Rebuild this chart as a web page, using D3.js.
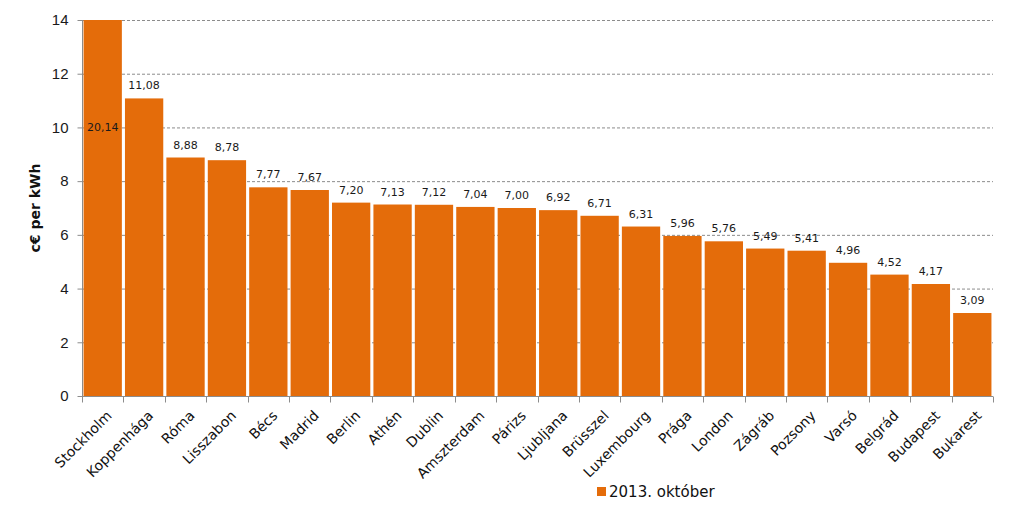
<!DOCTYPE html>
<html>
<head>
<meta charset="utf-8">
<script src="https://cdn.jsdelivr.net/npm/d3@7"></script>
<style>
  body { margin: 0; background: #fff; }
  svg { display: block; font-family: "DejaVu Sans", Verdana, sans-serif; }
</style>
</head>
<body>
<svg id="chart" width="1009" height="510"></svg>
<script>
// data
const cities = ["Stockholm", "Koppenhága", "Róma", "Lisszabon", "Bécs", "Madrid", "Berlin", "Athén", "Dublin",
  "Amszterdam", "Párizs", "Ljubljana", "Brüsszel", "Luxembourg", "Prága", "London", "Zágráb", "Pozsony",
  "Varsó", "Belgrád", "Budapest", "Bukarest"]
const prices = [20.14, 11.08, 8.88, 8.78, 7.77, 7.67, 7.20, 7.13, 7.12, 7.04, 7.00, 6.92, 6.71, 6.31, 5.96,
  5.76, 5.49, 5.41, 4.96, 4.52, 4.17, 3.09]
const yTicks = [0, 2, 4, 6, 8, 10, 12, 14]
const seriesName = "2013. október"
const yTitle = "c€ per kWh"

const orange = "#e46c0a"
const margins = { left: 82, top: 20, right: 16, bottom: 114 }
const width = 1009, height = 510

const svg = d3.select("#chart")

const x = d3.scaleBand()
    .domain(cities)
    .range([margins.left, width - margins.right])
    .paddingInner(0.075)
    .paddingOuter(0.0375)

const y = d3.scaleLinear()
    .domain([0, 14])
    .range([height - margins.bottom, margins.top])

const fmt = v => v.toFixed(2).replace(".", ",")

// gridlines
svg.append("g")
    .selectAll("line")
    .data(yTicks.filter(d => d > 0))
    .join("line")
    .attr("x1", margins.left)
    .attr("x2", width - margins.right)
    .attr("y1", d => y(d) + 0.5)
    .attr("y2", d => y(d) + 0.5)
    .attr("stroke", "#8c8c8c")
    .attr("stroke-width", 1)
    .attr("stroke-dasharray", "3,2")

// bars (clipped at axis max)
svg.append("g")
    .selectAll("rect")
    .data(prices)
    .join("rect")
    .attr("x", (d, i) => x(cities[i]))
    .attr("width", x.bandwidth())
    .attr("y", d => y(Math.min(d, 14)))
    .attr("height", d => y(0) - y(Math.min(d, 14)))
    .attr("fill", orange)

// value labels
svg.append("g")
    .selectAll("text")
    .data(prices)
    .join("text")
    .attr("x", (d, i) => x(cities[i]) + x.bandwidth() / 2)
    .attr("y", d => d > 14 ? y(10) + 4 : y(d) - 9)
    .attr("text-anchor", "middle")
    .attr("font-size", "11px")
    .attr("fill", "#1a1a1a")
    .text(fmt)

// y axis
const yAxis = svg.append("g")
    .attr("transform", `translate(${margins.left + 0.5},0)`)
    .call(d3.axisLeft(y).tickValues(yTicks).tickSize(5).tickPadding(9).tickFormat(d3.format("d")))
yAxis.select(".domain").attr("stroke", "#8c8c8c").attr("d", `M0,${y(14)}V${y(0)}`)
yAxis.selectAll(".tick line").attr("stroke", "#8c8c8c")
yAxis.selectAll(".tick text")
    .attr("font-size", "15px")
    .attr("fill", "#1a1a1a")

// x axis with ticks at band boundaries
const xg = svg.append("g").attr("transform", `translate(0,${y(0) + 0.5})`)
xg.append("line")
    .attr("x1", margins.left).attr("x2", width - margins.right)
    .attr("stroke", "#8c8c8c")
const step = x.step()
const bounds = d3.range(cities.length + 1).map(i => margins.left + i * step)
xg.selectAll("line.tk")
    .data(bounds)
    .join("line")
    .attr("class", "tk")
    .attr("x1", d => Math.round(d) + 0.5).attr("x2", d => Math.round(d) + 0.5)
    .attr("y1", 0).attr("y2", 6)
    .attr("stroke", "#8c8c8c")

xg.selectAll("text")
    .data(cities)
    .join("text")
    .attr("transform", d => `translate(${x(d) + x.bandwidth() / 2 + 3},${13}) rotate(-45)`)
    .attr("text-anchor", "end")
    .attr("dy", "0.71em")
    .attr("font-size", "14px")
    .attr("fill", "#111")
    .text(d => d)

// y title
svg.append("text")
    .attr("transform", `translate(40,${(y(0) + y(14)) / 2}) rotate(-90)`)
    .attr("text-anchor", "middle")
    .attr("font-size", "14px")
    .attr("font-weight", "bold")
    .attr("fill", "#111")
    .text(yTitle)

// legend
const lg = svg.append("g").attr("transform", "translate(597,484)")
lg.append("rect").attr("width", 9).attr("height", 9).attr("y", 3).attr("fill", orange)
lg.append("text")
    .attr("x", 12).attr("y", 13)
    .attr("font-size", "15px")
    .attr("fill", "#111")
    .text(seriesName)
</script>
</body>
</html>
